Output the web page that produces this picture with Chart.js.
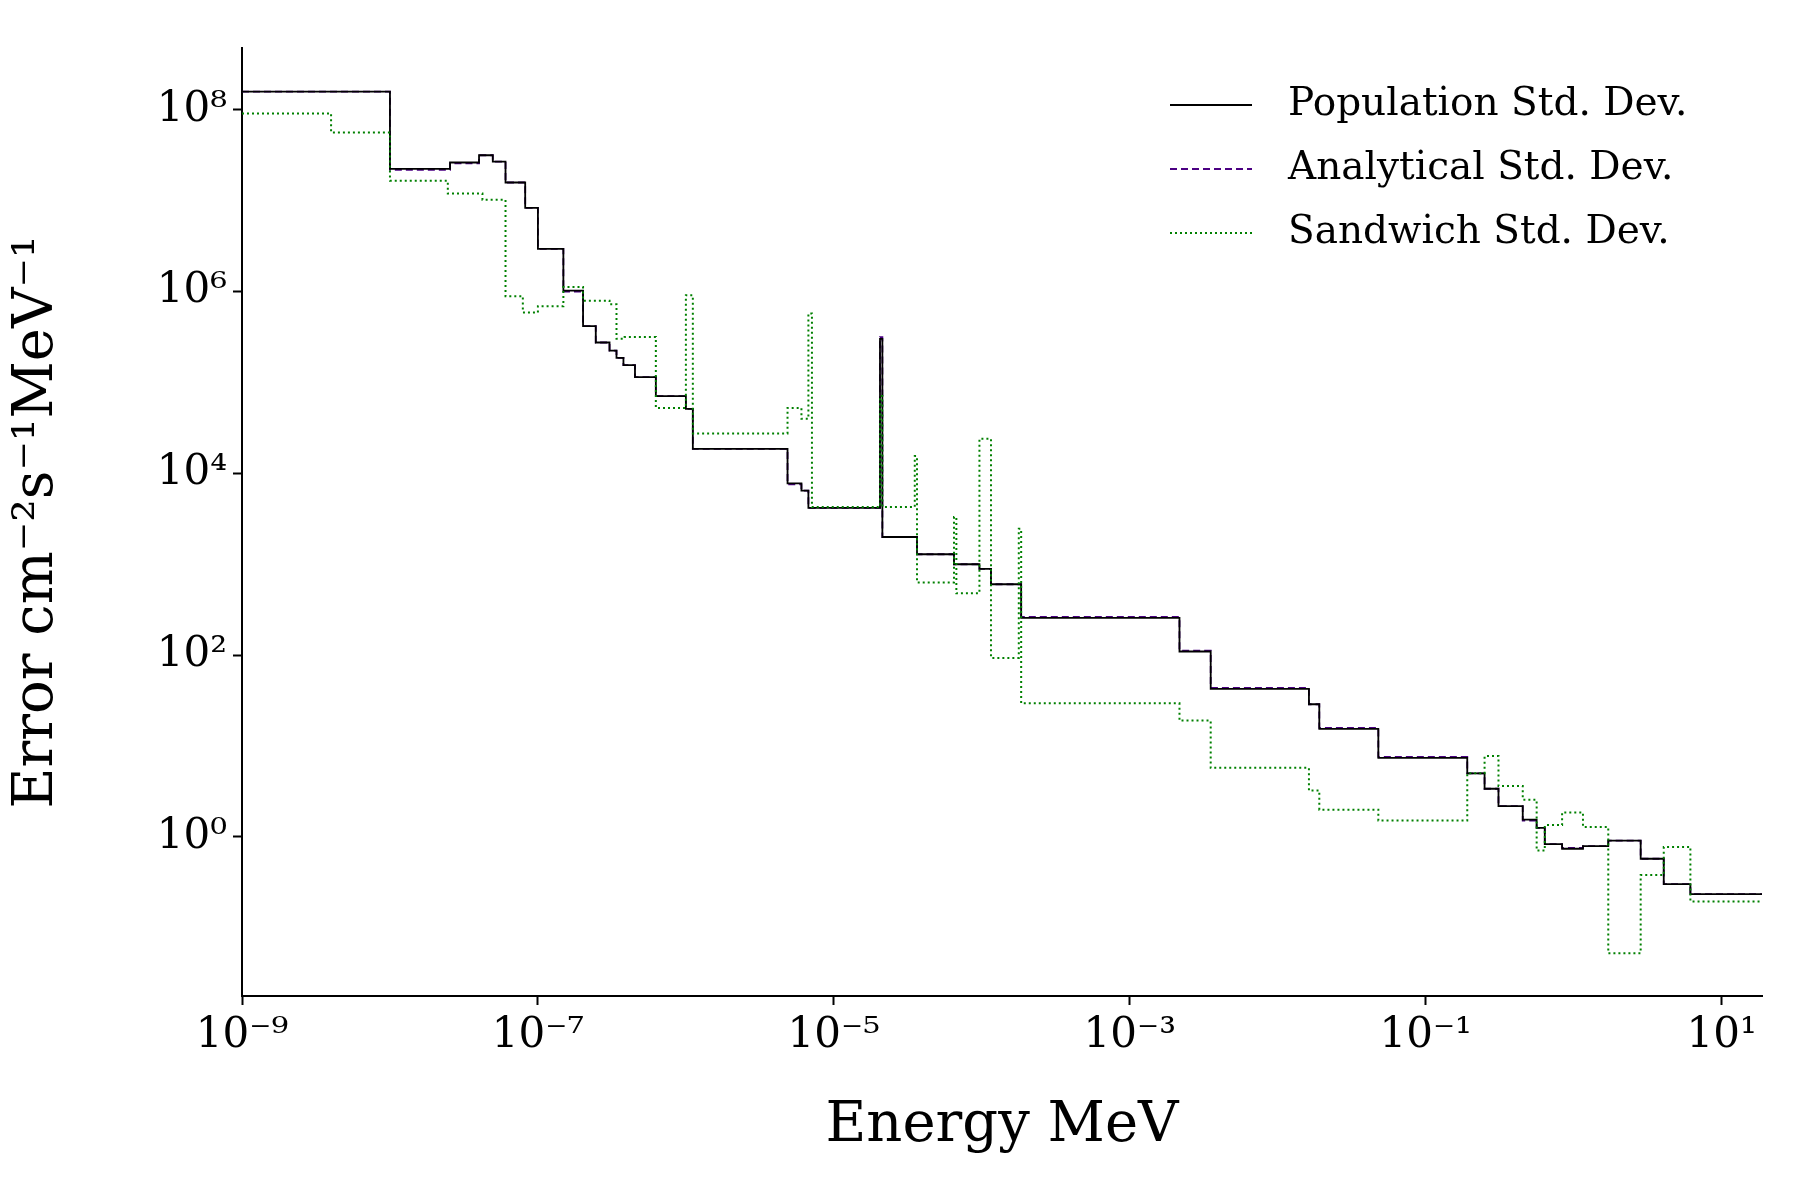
<!DOCTYPE html>
<html><head><meta charset="utf-8">
<script src="https://cdn.jsdelivr.net/npm/chart.js@4/dist/chart.umd.min.js"></script>
<style>body{margin:0;background:#fff}#w{width:1800px;height:1200px}</style></head>
<body><div id="w"><canvas id="c"></canvas></div>
<script>
// bin edges as log10(E/MeV)
const popEdges=[-9,-8,-7.594,-7.398,-7.305,-7.219,-7.086,-7.0,-6.828,-6.695,-6.609,-6.516,-6.469,-6.422,-6.344,-6.203,-6.0,-5.953,-5.313,-5.219,-5.172,-4.688,-4.672,-4.438,-4.188,-4.016,-3.938,-3.734,-2.664,-2.453,-1.789,-1.719,-1.320,-0.719,-0.602,-0.508,-0.344,-0.25,-0.195,-0.078,0.063,0.234,0.453,0.609,0.789,1.273];
// log10 values per bin
const popLog=[8.2,7.35,7.42,7.5,7.43,7.2,6.92,6.47,6.01,5.62,5.44,5.35,5.27,5.19,5.06,4.85,4.71,4.27,3.89,3.81,3.62,5.48,3.30,3.11,3.0,2.95,2.78,2.41,2.04,1.63,1.46,1.19,0.87,0.70,0.53,0.34,0.19,0.10,-0.08,-0.13,-0.10,-0.04,-0.24,-0.52,-0.63];
const anaLog=[8.2,7.34,7.41,7.5,7.43,7.2,6.92,6.47,6.0,5.62,5.44,5.35,5.27,5.19,5.06,4.85,4.71,4.27,3.88,3.81,3.62,5.5,3.30,3.11,3.0,2.95,2.78,2.42,2.05,1.64,1.46,1.2,0.88,0.70,0.53,0.34,0.18,0.10,-0.08,-0.12,-0.10,-0.04,-0.24,-0.52,-0.63];
const sandEdges=[-9,-8.398,-8,-7.609,-7.375,-7.219,-7.195,-7.102,-7.0,-6.828,-6.695,-6.516,-6.469,-6.414,-6.344,-6.203,-6.0,-5.953,-5.313,-5.219,-5.172,-5.148,-4.688,-4.672,-4.453,-4.438,-4.188,-4.172,-4.016,-3.938,-3.750,-3.734,-2.664,-2.453,-1.789,-1.719,-1.320,-0.719,-0.602,-0.508,-0.344,-0.25,-0.195,-0.078,0.063,0.234,0.453,0.609,0.789,1.273];
const sandLog=[7.96,7.75,7.22,7.08,7.01,5.95,5.95,5.77,5.84,6.05,5.9,5.86,5.48,5.5,5.5,4.72,5.96,4.44,4.72,4.6,5.76,3.63,4.85,3.63,4.19,2.8,3.52,2.68,4.38,1.97,3.39,1.47,1.28,0.76,0.51,0.30,0.18,0.70,0.89,0.56,0.41,-0.15,0.13,0.27,0.11,-1.28,-0.42,-0.11,-0.71];
const xTicks=[-9,-7,-5,-3,-1,1];
const yTicks=[8,6,4,2,0];

function pts(edges,vals){const p=[];for(let i=0;i<vals.length;i++)p.push({x:Math.pow(10,edges[i]),y:Math.pow(10,vals[i])});p.push({x:Math.pow(10,edges[edges.length-1]),y:Math.pow(10,vals[vals.length-1])});return p;}
const sup=s=>String(s).replace(/-/g,'⁻').replace(/\d/g,d=>'⁰¹²³⁴⁵⁶⁷⁸⁹'[d]);
const serif='"DejaVu Serif", serif';
const legendPlugin={id:'lg',afterDraw(ch){const c=ch.ctx;const items=[['Population Std. Dev.','#000',[]],['Analytical Std. Dev.','#4b0082',[7,4]],['Sandwich Std. Dev.','#008000',[2,3]]];
c.save();c.font='39px '+serif;c.textBaseline='middle';items.forEach((it,i)=>{const y=105+i*64;c.strokeStyle=it[1];c.lineWidth=2;c.setLineDash(it[2]);c.beginPath();c.moveTo(1170,y);c.lineTo(1252,y);c.stroke();c.fillStyle='#000';c.fillText(it[0],1288,y);});c.restore();}};
new Chart(document.getElementById('c'),{type:'line',
data:{datasets:[
{label:'Sandwich',data:pts(sandEdges,sandLog),borderColor:'#008000',borderDash:[2,3],borderWidth:2,stepped:'before',pointRadius:0,fill:false},
{label:'Population',data:pts(popEdges,popLog),borderColor:'#000',borderWidth:1.8,stepped:'before',pointRadius:0,fill:false},
{label:'Analytical',data:pts(popEdges,anaLog),borderColor:'#4b0082',borderDash:[7,4],borderWidth:1.8,stepped:'before',pointRadius:0,fill:false}
]},
options:{responsive:true,maintainAspectRatio:false,animation:false,
layout:{padding:{top:48,right:38,left:0,bottom:36}},
plugins:{legend:{display:false},tooltip:{enabled:false}},
scales:{
x:{type:'logarithmic',min:1e-9,max:Math.pow(10,1.273),
afterBuildTicks:s=>{s.ticks=xTicks.map(v=>({value:Math.pow(10,v)}));},
afterFit:s=>{s.height=168;},
ticks:{autoSkip:false,maxRotation:0,color:'#000',font:{family:serif,size:42},padding:6,callback:v=>'10'+sup(Math.round(Math.log10(v)))},
grid:{drawOnChartArea:false,color:'#000',tickLength:9,tickWidth:2},border:{color:'#000',width:2},
title:{display:true,text:'Energy MeV',color:'#000',font:{family:serif,size:56},padding:{top:4}}},
y:{type:'logarithmic',min:Math.pow(10,-1.75),max:Math.pow(10,8.68),
afterBuildTicks:s=>{s.ticks=yTicks.map(v=>({value:Math.pow(10,v)}));},
afterFit:s=>{s.width=242;},
ticks:{autoSkip:false,color:'#000',font:{family:serif,size:42},padding:6,callback:v=>'10'+sup(Math.round(Math.log10(v)))},
grid:{drawOnChartArea:false,color:'#000',tickLength:9,tickWidth:2},border:{color:'#000',width:2},
title:{display:true,text:'Error cm⁻²s⁻¹MeV⁻¹',color:'#000',font:{family:serif,size:56},padding:{bottom:4}}}
}},plugins:[legendPlugin]});
</script></body></html>
